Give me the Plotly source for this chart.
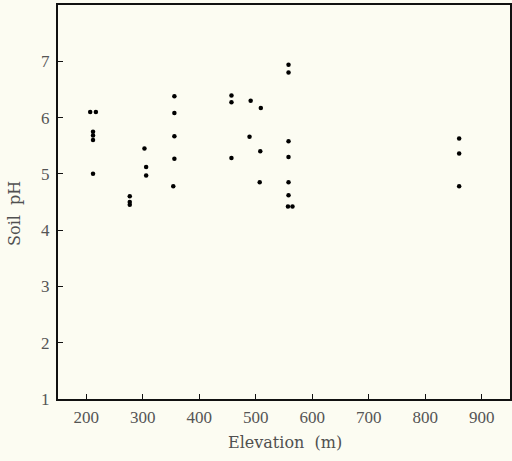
import plotly.graph_objects as go

elevation = [207, 217, 212, 212, 212, 212,
             277, 277, 277,
             303, 306, 306,
             356, 356, 356, 356, 354,
             457, 457, 457,
             491, 489,
             509, 508, 507,
             558, 558, 558, 558, 558, 558, 557, 565,
             860, 860, 860]
soil_ph = [6.1, 6.1, 5.75, 5.68, 5.6, 5.0,
           4.6, 4.5, 4.45,
           5.45, 5.12, 4.97,
           6.38, 6.08, 5.67, 5.27, 4.78,
           6.39, 6.27, 5.28,
           6.3, 5.66,
           6.17, 5.4, 4.85,
           6.94, 6.8, 5.58, 5.3, 4.85, 4.62, 4.42, 4.42,
           5.63, 5.36, 4.78]

x_ticks = [200, 300, 400, 500, 600, 700, 800, 900]
y_ticks = [1, 2, 3, 4, 5, 6, 7]
x_title = "Elevation  (m)"
y_title = "Soil  pH"

fig = go.Figure(go.Scatter(
    x=elevation, y=soil_ph, mode="markers",
    marker=dict(color="black", size=4.5),
    showlegend=False, hoverinfo="skip",
))

tick_font = dict(family="Liberation Serif, Times New Roman, serif", size=17, color="#555555")
title_font = dict(family="DejaVu Serif, serif", size=16, color="#505050")
bg = "#fcfcf2"

fig.update_layout(
    width=512, height=461,
    margin=dict(l=58, r=2, t=5, b=62, autoexpand=False),
    paper_bgcolor=bg,
    plot_bgcolor=bg,
    annotations=[
        dict(text=x_title, xref="paper", yref="paper", x=0.502, y=-0.11,
             xanchor="center", yanchor="middle", showarrow=False, font=title_font),
        dict(text=y_title, xref="paper", yref="paper", x=-0.095, y=0.47,
             xanchor="center", yanchor="middle", showarrow=False, textangle=-90,
             font=title_font),
    ],
)
fig.update_xaxes(
    range=[150, 950], tickvals=x_ticks, automargin=False,
    showgrid=False, zeroline=False,
    showline=True, mirror=True, linecolor="#111111", linewidth=2,
    ticks="inside", ticklen=5, tickcolor="#111111",
    tickfont=tick_font, ticklabelstandoff=2,
)
fig.update_yaxes(
    range=[1, 8], tickvals=y_ticks, automargin=False,
    showgrid=False, zeroline=False,
    showline=True, mirror=True, linecolor="#111111", linewidth=2,
    ticks="inside", ticklen=5, tickcolor="#111111",
    tickfont=tick_font, ticklabelstandoff=3,
)
fig.write_html(
    "out.html",
    config={"displayModeBar": False},
    post_script="document.body.style.margin='0';document.body.style.background='#fcfcf2';",
)
